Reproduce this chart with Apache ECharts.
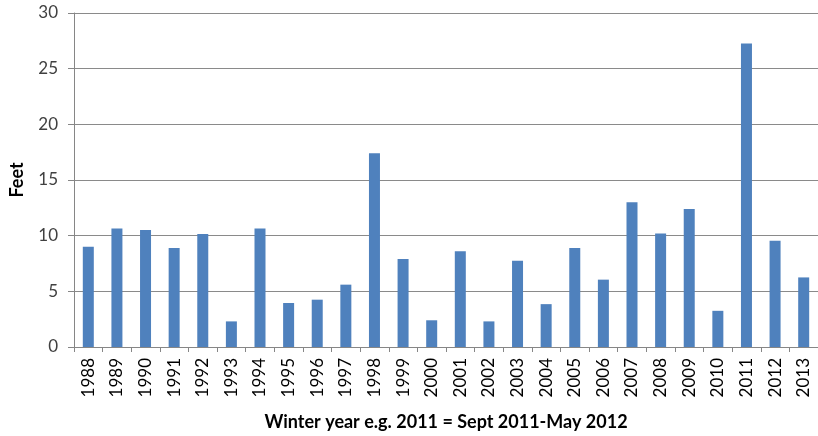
<!DOCTYPE html>
<html>
<head>
<meta charset="utf-8">
<script src="https://cdn.jsdelivr.net/npm/echarts@6/dist/echarts.min.js"></script>
<style>html,body{margin:0;padding:0;background:#fff}#c{width:818px;height:436px}</style>
</head>
<body>
<div id="c"></div>
<script>
const categories = ['1988','1989','1990','1991','1992','1993','1994','1995','1996','1997','1998','1999','2000','2001','2002','2003','2004','2005','2006','2007','2008','2009','2010','2011','2012','2013'];
const feet = [9.0,10.65,10.5,8.9,10.15,2.3,10.65,3.95,4.25,5.6,17.4,7.9,2.4,8.6,2.3,7.75,3.85,8.9,6.05,13.0,10.2,12.4,3.25,27.25,9.55,6.25];
const yTicks = {min:0, max:30, interval:5};
const xTitle = 'Winter year e.g. 2011 = Sept 2011-May 2012';
const yTitle = 'Feet';
const font = 'Lato, "Open Sans", sans-serif';
const chart = echarts.init(document.getElementById('c'));
chart.setOption({
  animation:false,
  grid:{left:73,right:0,top:13,bottom:85,containLabel:false},
  xAxis:{
    type:'category', data:categories,
    axisLine:{lineStyle:{color:'#868686',width:1}},
    axisTick:{show:true,alignWithLabel:false,length:5,lineStyle:{color:'#868686'}},
    axisLabel:{rotate:90,color:'#000',fontSize:17,fontFamily:font,margin:11,interval:0},
    name:xTitle,nameLocation:'middle',nameGap:66,
    nameTextStyle:{fontSize:18,fontWeight:'bold',color:'#000',fontFamily:font}
  },
  yAxis:{
    type:'value',min:yTicks.min,max:yTicks.max,interval:yTicks.interval,
    axisLine:{show:true,lineStyle:{color:'#868686'}},
    axisTick:{show:true,length:6,lineStyle:{color:'#868686'}},
    axisLabel:{color:'#404040',fontSize:17,fontFamily:font,margin:16},
    splitLine:{lineStyle:{color:'#8a8a8a',width:1}},
    name:yTitle,nameLocation:'middle',nameGap:48,nameRotate:90,
    nameTextStyle:{fontSize:18,fontWeight:'bold',color:'#000',fontFamily:font}
  },
  series:[{type:'bar',data:feet,barWidth:11,itemStyle:{color:'#4f81bd'}}]
});
</script>
</body>
</html>
